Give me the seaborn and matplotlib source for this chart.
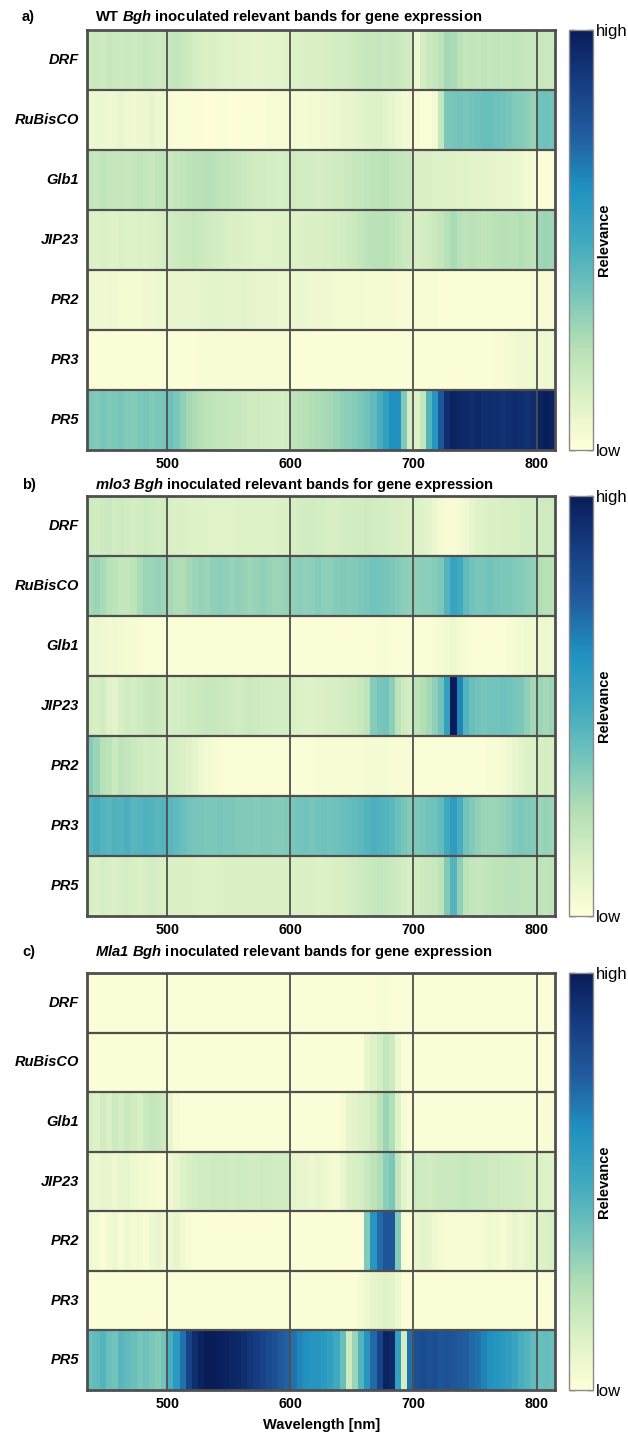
import numpy as np
import pandas as pd
import matplotlib
matplotlib.use("Agg")
import matplotlib.pyplot as plt
from matplotlib.colors import LinearSegmentedColormap
import seaborn as sns

sns.set_theme(style="white")
plt.rcParams["font.family"] = ["Liberation Sans", "DejaVu Sans"]
plt.rcParams["mathtext.fontset"] = "custom"
plt.rcParams["mathtext.it"] = "Liberation Sans:italic:bold"
plt.rcParams["mathtext.rm"] = "Liberation Sans:italic:bold"
for key in ["text.color", "axes.labelcolor", "xtick.color", "ytick.color"]:
    plt.rcParams[key] = "black"

# ---------------- data ----------------
genes = ["DRF", "RuBisCO", "Glb1", "JIP23", "PR2", "PR3", "PR5"]
band_start = 435          # nm, lower edge of first band
band_width = 5            # nm per band
wavelength_ticks = [500, 600, 700, 800]
wavelengths = np.arange(band_start + band_width / 2, 815, band_width)

# panel a : WT
DRF_a = [0.17,0.18,0.17,0.19,0.18,0.17,0.18,0.17,0.18,0.19,0.18,0.17,0.18,
         0.19,0.20,0.18,0.17,0.15,0.14,0.13,0.13,0.12,0.11,0.11,0.10,0.10,0.10,0.09,0.09,0.10,0.10,0.10,0.11,
         0.12,0.12,0.13,0.13,0.13,0.14,0.14,0.15,0.15,0.16,0.17,0.18,0.19,0.19,0.20,0.18,0.19,0.18,0.17,0.16,
         0.07,0.15,0.18,0.20,0.22,0.28,0.27,0.22,0.20,0.21,0.20,0.21,0.20,0.21,0.20,0.20,0.21,0.20,0.19,0.19,
         0.19,0.18,0.18]
RuBisCO_a = [0.06,0.07,0.07,0.06,0.07,0.08,0.07,0.06,0.07,0.07,0.08,0.07,0.07,
             0.03,0.02,0.02,0.02,0.02,0.02,0.01,0.01,0.02,0.02,0.01,0.01,0.02,0.02,0.02,0.02,0.03,0.03,0.03,0.03,
             0.04,0.04,0.04,0.05,0.05,0.06,0.06,0.07,0.08,0.08,0.09,0.10,0.11,0.12,0.12,0.10,0.08,0.07,0.05,0.05,
             0.03,0.02,0.02,0.05,0.20,0.36,0.37,0.38,0.37,0.38,0.39,0.40,0.40,0.39,0.38,0.37,0.35,0.34,0.33,0.31,
             0.38,0.39,0.38]
Glb1_a = [0.20,0.19,0.21,0.20,0.19,0.20,0.19,0.20,0.21,0.20,0.19,0.21,0.22,
          0.18,0.20,0.21,0.22,0.23,0.23,0.24,0.23,0.22,0.21,0.20,0.19,0.18,0.17,0.16,0.16,0.15,0.15,0.14,0.15,
          0.16,0.15,0.15,0.15,0.14,0.15,0.16,0.17,0.17,0.18,0.19,0.20,0.21,0.22,0.22,0.23,0.21,0.20,0.20,0.19,
          0.13,0.13,0.13,0.12,0.12,0.12,0.11,0.11,0.11,0.10,0.10,0.10,0.09,0.09,0.08,0.08,0.07,0.07,0.05,0.04,
          0.02,0.02,0.02]
JIP23_a = [0.13,0.12,0.13,0.12,0.11,0.13,0.12,0.12,0.13,0.12,0.13,0.14,0.15,
           0.16,0.17,0.18,0.18,0.19,0.18,0.17,0.16,0.15,0.14,0.13,0.13,0.12,0.12,0.11,0.11,0.11,0.11,0.12,0.12,
           0.12,0.12,0.13,0.13,0.13,0.14,0.14,0.15,0.16,0.17,0.18,0.20,0.22,0.23,0.23,0.24,0.22,0.20,0.18,0.17,
           0.14,0.15,0.16,0.18,0.20,0.24,0.27,0.24,0.22,0.23,0.22,0.21,0.22,0.23,0.24,0.23,0.24,0.25,0.23,0.22,
           0.29,0.30,0.29]
PR2_a = [0.07,0.06,0.06,0.07,0.06,0.05,0.05,0.05,0.05,0.06,0.06,0.07,0.07,
         0.08,0.08,0.09,0.08,0.08,0.09,0.09,0.10,0.10,0.09,0.09,0.09,0.10,0.09,0.09,0.08,0.08,0.08,0.07,0.07,
         0.07,0.07,0.07,0.06,0.06,0.06,0.06,0.05,0.05,0.05,0.05,0.05,0.04,0.04,0.04,0.04,0.04,0.03,0.03,0.03,
         0.03,0.03,0.03,0.03,0.02,0.02,0.02,0.02,0.02,0.02,0.02,0.02,0.02,0.02,0.02,0.02,0.02,0.02,0.02,0.03,
         0.03,0.03,0.03]
PR3_a = [0.02,0.02,0.02,0.02,0.02,0.02,0.02,0.02,0.02,0.02,0.02,0.02,0.02,
         0.02,0.02,0.02,0.02,0.02,0.03,0.03,0.03,0.03,0.03,0.03,0.03,0.03,0.03,0.03,0.03,0.03,0.03,0.03,0.03,
         0.02,0.02,0.02,0.02,0.02,0.02,0.02,0.02,0.02,0.02,0.02,0.02,0.02,0.02,0.02,0.02,0.02,0.02,0.02,0.02,
         0.02,0.02,0.02,0.02,0.02,0.02,0.02,0.02,0.02,0.02,0.02,0.02,0.02,0.03,0.03,0.04,0.05,0.06,0.06,0.07,
         0.06,0.07,0.06]
PR5_a = [0.36,0.35,0.37,0.35,0.36,0.37,0.35,0.34,0.36,0.37,0.35,0.36,0.37,
         0.40,0.36,0.32,0.28,0.26,0.24,0.22,0.21,0.20,0.20,0.19,0.19,0.18,0.17,0.17,0.16,0.16,0.15,0.15,0.16,
         0.22,0.23,0.24,0.25,0.26,0.27,0.28,0.30,0.32,0.33,0.34,0.36,0.38,0.42,0.48,0.55,0.62,0.62,0.35,0.15,
         0.12,0.20,0.45,0.60,0.78,0.93,0.97,0.96,0.95,0.94,0.95,0.93,0.94,0.93,0.92,0.93,0.94,0.93,0.92,0.94,
         0.98,0.99,0.98]

# panel b : mlo3
DRF_b = [0.17,0.16,0.17,0.18,0.16,0.17,0.16,0.15,0.16,0.17,0.16,0.15,0.16,
         0.14,0.13,0.13,0.12,0.12,0.12,0.11,0.11,0.11,0.11,0.11,0.12,0.12,0.12,0.12,0.12,0.12,0.12,0.13,0.13,
         0.14,0.15,0.16,0.16,0.15,0.15,0.14,0.14,0.15,0.15,0.16,0.16,0.17,0.16,0.15,0.15,0.14,0.14,0.13,0.13,
         0.12,0.11,0.10,0.07,0.04,0.03,0.03,0.04,0.06,0.09,0.11,0.12,0.13,0.13,0.14,0.14,0.14,0.15,0.15,0.15,
         0.17,0.17,0.17]
RuBisCO_b = [0.28,0.30,0.27,0.24,0.22,0.20,0.20,0.22,0.27,0.30,0.30,0.31,0.30,
             0.28,0.26,0.26,0.28,0.30,0.31,0.30,0.32,0.33,0.32,0.31,0.32,0.31,0.30,0.31,0.32,0.31,0.30,0.30,0.31,
             0.32,0.33,0.32,0.33,0.34,0.33,0.33,0.34,0.35,0.34,0.35,0.36,0.37,0.38,0.38,0.37,0.36,0.34,0.33,0.32,
             0.32,0.33,0.33,0.34,0.36,0.45,0.53,0.50,0.42,0.38,0.37,0.37,0.38,0.37,0.36,0.36,0.35,0.34,0.33,0.32,
             0.25,0.24,0.24]
Glb1_b = [0.06,0.07,0.06,0.05,0.06,0.05,0.04,0.04,0.03,0.02,0.02,0.02,0.02,
          0.02,0.02,0.02,0.02,0.02,0.02,0.02,0.02,0.02,0.02,0.02,0.02,0.02,0.02,0.02,0.02,0.02,0.02,0.02,0.02,
          0.02,0.02,0.02,0.02,0.02,0.02,0.02,0.02,0.02,0.02,0.02,0.02,0.02,0.02,0.03,0.03,0.02,0.02,0.02,0.02,
          0.02,0.02,0.02,0.03,0.04,0.05,0.07,0.05,0.03,0.02,0.02,0.02,0.02,0.02,0.02,0.03,0.04,0.05,0.06,0.06,
          0.07,0.07,0.06]
JIP23_b = [0.15,0.14,0.16,0.12,0.10,0.14,0.16,0.15,0.17,0.18,0.19,0.18,0.17,
           0.14,0.15,0.16,0.17,0.17,0.18,0.19,0.19,0.18,0.18,0.17,0.16,0.17,0.18,0.17,0.16,0.16,0.15,0.15,0.15,
           0.13,0.13,0.12,0.12,0.13,0.13,0.14,0.14,0.15,0.16,0.17,0.19,0.22,0.34,0.37,0.38,0.33,0.22,0.17,0.15,
           0.22,0.25,0.28,0.32,0.38,0.55,1.00,0.65,0.45,0.40,0.38,0.37,0.38,0.38,0.39,0.38,0.37,0.36,0.32,0.28,
           0.30,0.28,0.30]
PR2_b = [0.34,0.30,0.24,0.22,0.18,0.22,0.20,0.18,0.17,0.15,0.16,0.15,0.14,
         0.15,0.14,0.13,0.11,0.09,0.07,0.05,0.04,0.03,0.02,0.02,0.02,0.02,0.02,0.02,0.02,0.02,0.02,0.02,0.02,
         0.02,0.02,0.02,0.02,0.03,0.03,0.03,0.03,0.03,0.03,0.03,0.03,0.04,0.04,0.04,0.04,0.03,0.03,0.03,0.03,
         0.02,0.02,0.02,0.02,0.02,0.02,0.02,0.02,0.02,0.02,0.02,0.02,0.03,0.03,0.04,0.06,0.08,0.10,0.12,0.13,
         0.14,0.15,0.14]
PR3_b = [0.46,0.48,0.45,0.44,0.46,0.45,0.47,0.44,0.45,0.46,0.45,0.44,0.45,
         0.44,0.42,0.40,0.38,0.37,0.37,0.36,0.36,0.37,0.36,0.36,0.35,0.35,0.35,0.34,0.35,0.35,0.34,0.34,0.35,
         0.37,0.38,0.38,0.37,0.38,0.39,0.38,0.39,0.40,0.41,0.42,0.43,0.45,0.47,0.46,0.45,0.43,0.40,0.37,0.35,
         0.36,0.37,0.38,0.39,0.42,0.50,0.56,0.48,0.38,0.35,0.32,0.30,0.30,0.30,0.31,0.33,0.35,0.36,0.35,0.34,
         0.30,0.31,0.30]
PR5_b = [0.14,0.13,0.15,0.14,0.13,0.14,0.15,0.14,0.13,0.14,0.15,0.14,0.14,
         0.13,0.13,0.13,0.13,0.13,0.12,0.12,0.12,0.13,0.13,0.13,0.13,0.13,0.13,0.13,0.13,0.13,0.13,0.13,0.13,
         0.13,0.13,0.13,0.13,0.12,0.13,0.13,0.14,0.14,0.15,0.16,0.17,0.18,0.19,0.20,0.19,0.18,0.17,0.15,0.14,
         0.16,0.17,0.18,0.19,0.22,0.35,0.45,0.32,0.22,0.20,0.19,0.20,0.21,0.22,0.22,0.23,0.23,0.22,0.22,0.22,
         0.22,0.21,0.22]

# panel c : Mla1
DRF_c = [0.02,0.02,0.02,0.02,0.02,0.02,0.02,0.02,0.02,0.02,0.02,0.02,0.02,
         0.02,0.02,0.02,0.02,0.02,0.02,0.02,0.02,0.02,0.02,0.02,0.02,0.02,0.02,0.02,0.02,0.02,0.02,0.02,0.02,
         0.02,0.02,0.02,0.02,0.02,0.02,0.02,0.02,0.02,0.02,0.02,0.02,0.02,0.02,0.03,0.03,0.02,0.02,0.02,0.02,
         0.02,0.02,0.02,0.02,0.02,0.02,0.02,0.02,0.02,0.02,0.02,0.02,0.02,0.02,0.02,0.02,0.02,0.02,0.02,0.02,
         0.02,0.02,0.02]
RuBisCO_c = [0.02,0.02,0.02,0.02,0.02,0.02,0.02,0.02,0.02,0.02,0.02,0.02,0.02,
             0.02,0.02,0.02,0.02,0.02,0.02,0.02,0.02,0.02,0.02,0.02,0.02,0.02,0.02,0.02,0.02,0.02,0.02,0.02,0.02,
             0.02,0.02,0.02,0.02,0.02,0.02,0.02,0.02,0.02,0.02,0.02,0.02,0.08,0.12,0.15,0.20,0.17,0.07,0.02,0.02,
             0.02,0.02,0.02,0.02,0.02,0.02,0.02,0.02,0.02,0.02,0.02,0.02,0.02,0.02,0.02,0.02,0.02,0.02,0.02,0.02,
             0.02,0.02,0.02]
Glb1_c = [0.14,0.12,0.16,0.13,0.17,0.15,0.18,0.16,0.14,0.18,0.20,0.19,0.17,
          0.08,0.03,0.02,0.02,0.02,0.02,0.02,0.02,0.02,0.02,0.02,0.02,0.02,0.02,0.02,0.02,0.02,0.02,0.02,0.02,
          0.02,0.02,0.02,0.02,0.02,0.02,0.02,0.02,0.04,0.08,0.10,0.12,0.13,0.16,0.22,0.30,0.25,0.12,0.04,0.02,
          0.02,0.02,0.02,0.02,0.02,0.02,0.02,0.02,0.02,0.02,0.02,0.02,0.02,0.02,0.02,0.02,0.02,0.02,0.02,0.02,
          0.02,0.03,0.03]
JIP23_c = [0.08,0.07,0.09,0.08,0.06,0.08,0.09,0.07,0.05,0.05,0.04,0.03,0.03,
           0.06,0.08,0.12,0.14,0.15,0.16,0.16,0.17,0.17,0.17,0.16,0.17,0.17,0.16,0.16,0.17,0.17,0.16,0.16,0.16,
           0.09,0.08,0.08,0.07,0.08,0.07,0.05,0.04,0.08,0.13,0.14,0.15,0.18,0.22,0.26,0.33,0.36,0.20,0.10,0.07,
           0.17,0.17,0.16,0.17,0.18,0.18,0.18,0.19,0.19,0.18,0.18,0.18,0.17,0.17,0.16,0.16,0.15,0.15,0.14,0.14,
           0.13,0.12,0.12]
PR2_c = [0.06,0.04,0.02,0.05,0.07,0.03,0.06,0.04,0.05,0.03,0.07,0.08,0.06,
         0.07,0.08,0.05,0.03,0.02,0.02,0.02,0.02,0.02,0.02,0.02,0.02,0.02,0.02,0.02,0.02,0.02,0.02,0.02,0.02,
         0.02,0.02,0.02,0.02,0.02,0.02,0.02,0.02,0.02,0.02,0.02,0.02,0.35,0.60,0.72,0.78,0.78,0.35,0.03,0.02,
         0.08,0.10,0.09,0.06,0.04,0.03,0.03,0.03,0.03,0.03,0.03,0.04,0.06,0.05,0.03,0.06,0.08,0.07,0.08,0.10,
         0.12,0.13,0.14]
PR3_c = [0.02,0.02,0.02,0.02,0.02,0.02,0.02,0.02,0.02,0.02,0.02,0.02,0.02,
         0.02,0.02,0.02,0.02,0.02,0.02,0.02,0.02,0.02,0.02,0.02,0.02,0.02,0.02,0.02,0.02,0.02,0.02,0.02,0.02,
         0.02,0.02,0.02,0.02,0.02,0.02,0.02,0.02,0.02,0.02,0.02,0.04,0.07,0.09,0.10,0.11,0.10,0.07,0.02,0.02,
         0.02,0.02,0.02,0.02,0.02,0.02,0.02,0.02,0.02,0.02,0.02,0.02,0.02,0.02,0.02,0.02,0.02,0.02,0.02,0.02,
         0.02,0.02,0.02]
PR5_c = [0.40,0.42,0.45,0.40,0.38,0.44,0.42,0.40,0.37,0.39,0.36,0.34,0.38,
         0.48,0.58,0.70,0.85,0.93,0.97,1.00,1.00,0.99,0.98,0.96,0.95,0.93,0.90,0.88,0.85,0.82,0.80,0.76,0.74,
         0.70,0.65,0.62,0.60,0.60,0.58,0.55,0.50,0.40,0.17,0.30,0.45,0.60,0.72,0.85,0.97,0.95,0.55,0.15,0.70,
         0.80,0.82,0.80,0.81,0.78,0.79,0.78,0.76,0.75,0.72,0.70,0.66,0.62,0.60,0.58,0.56,0.52,0.48,0.45,0.42,
         0.40,0.41,0.40]

panel_letters = ["a)", "b)", "c)"]
panel_titles = [r"WT $Bgh$ inoculated relevant bands for gene expression",
                r"$mlo3\ Bgh$ inoculated relevant bands for gene expression",
                r"$Mla1\ Bgh$ inoculated relevant bands for gene expression"]
panel_rows = [
    [DRF_a, RuBisCO_a, Glb1_a, JIP23_a, PR2_a, PR3_a, PR5_a],
    [DRF_b, RuBisCO_b, Glb1_b, JIP23_b, PR2_b, PR3_b, PR5_b],
    [DRF_c, RuBisCO_c, Glb1_c, JIP23_c, PR2_c, PR3_c, PR5_c],
]
for rows in panel_rows:
    for r in rows:
        assert len(r) == len(wavelengths), len(r)

# colour map (yellow-green-blue, as in the reference colour bar)
relevance_cmap = LinearSegmentedColormap.from_list(
    "relevance",
    ["#ffffd9", "#dcf1c6", "#b3dfb5", "#74c4bb", "#3fa9c0",
     "#2091c0", "#215d9f", "#163d82", "#081d58"], N=256)

# ---------------- layout ----------------
W, H = 628, 1434
fig = plt.figure(figsize=(W / 100, H / 100), dpi=100)
fig.patch.set_facecolor("white")

ax_left, ax_right = 87.3, 555.0
cax_left, cax_right = 568.5, 593.0
tops = [30, 496, 973]
bottoms = [450, 916, 1390]
title_y = [17, 485, 952]
line_col = "#4f4f4f"

for k in range(3):
    t, b = tops[k], bottoms[k]
    ax = fig.add_axes([ax_left / W, 1 - b / H, (ax_right - ax_left) / W, (b - t) / H])
    cax = fig.add_axes([cax_left / W, 1 - b / H, (cax_right - cax_left) / W, (b - t) / H])
    df = pd.DataFrame(np.array(panel_rows[k]), index=genes, columns=wavelengths)
    sns.heatmap(df, ax=ax, cbar_ax=cax, cmap=relevance_cmap, vmin=0, vmax=1,
                xticklabels=False, yticklabels=genes,
                cbar_kws={"ticks": np.linspace(0, 1, 9)})

    # x axis
    xt = [(w - band_start) / band_width for w in wavelength_ticks]
    ax.set_xticks(xt)
    ax.set_xticklabels([str(w) for w in wavelength_ticks], fontweight="bold", fontsize=10.3)
    ax.tick_params(axis="x", length=0, pad=5)
    ax.set_xlabel("")
    ax.set_ylabel("")
    # y axis
    ax.set_yticklabels(genes, rotation=0, fontstyle="italic", fontweight="bold", fontsize=10.5)
    ax.tick_params(axis="y", direction="in", left=True, right=True, length=4,
                   width=1.3, color=line_col, pad=6)
    # grid lines
    for x in xt:
        ax.axvline(x, color=line_col, lw=1.3)
    for y in range(1, len(genes)):
        ax.axhline(y, color=line_col, lw=1.6)
    for s in ax.spines.values():
        s.set_visible(True)
        s.set_color(line_col)
        s.set_linewidth(2.0)

    # colorbar
    cbar = ax.collections[0].colorbar
    cbar.outline.set_edgecolor("#8a8a8a")
    cbar.outline.set_linewidth(1.0)
    cax.set_yticklabels(["low"] + [""] * 7 + ["high"], fontsize=12)
    cax.tick_params(axis="y", direction="in", length=4, width=1.0, color="#444444",
                    left=True, right=True, pad=2)
    cax.text(1.45, 0.5, "Relevance", rotation=90, ha="center", va="center",
             transform=cax.transAxes, fontweight="bold", fontsize=10.5)

    # titles
    fig.text(22 / W, 1 - title_y[k] / H, panel_letters[k], fontweight="bold",
             fontsize=10.5, va="center", ha="left")
    fig.text(95 / W, 1 - title_y[k] / H, panel_titles[k], fontweight="bold",
             fontsize=10.6, va="center", ha="left")

    if k == 2:
        ax.set_xlabel("Wavelength [nm]", fontsize=10.5, fontweight="bold", labelpad=5)

fig.savefig("out.png", dpi=100, facecolor="white")
